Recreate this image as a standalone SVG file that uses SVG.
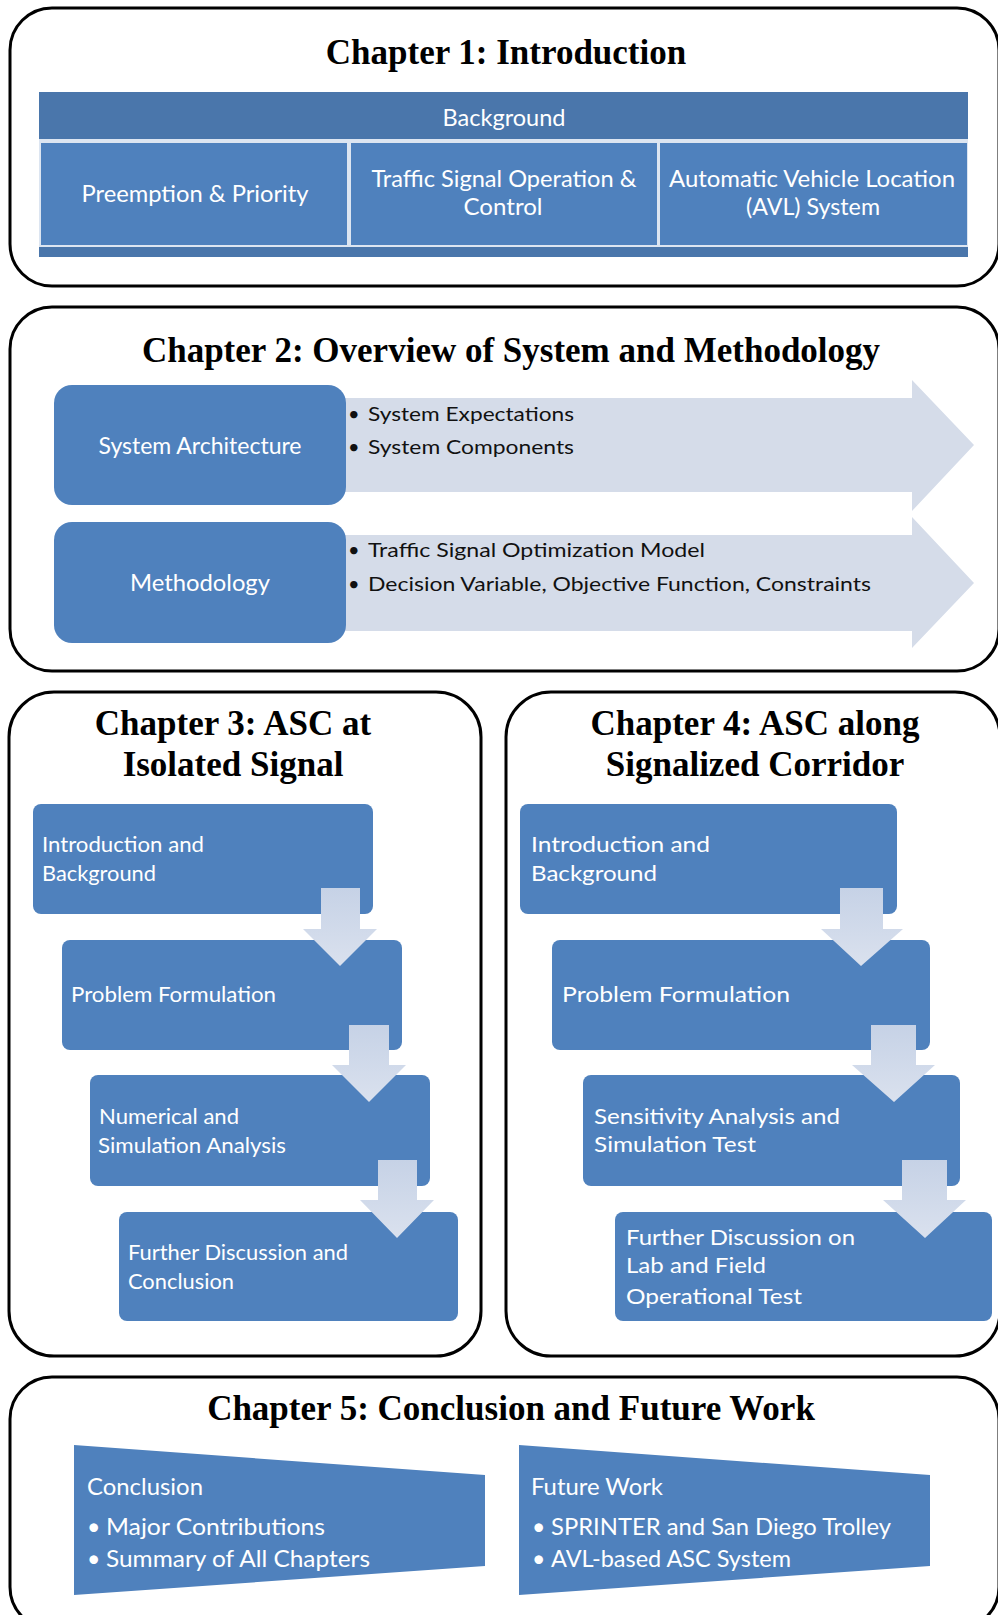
<svg xmlns="http://www.w3.org/2000/svg" width="998" height="1615" viewBox="0 0 998 1615">
<defs>
<linearGradient id="ag" x1="0" y1="0" x2="0" y2="1">
<stop offset="0" stop-color="#C6D2E6"/>
<stop offset="1" stop-color="#DAE1EE"/>
</linearGradient>
<style>
.frame{fill:#fff;stroke:#000;stroke-width:3}
.title{font-family:"Liberation Serif","Times New Roman",serif;font-weight:bold;font-size:35px;fill:#000;text-anchor:middle}
.blue{fill:#4F81BD}
.dark{fill:#4A76AB}
.wt{font-family:Lato,"Liberation Sans",sans-serif;fill:#fff;font-size:23px}
.bt{font-family:Lato,"Liberation Sans",sans-serif;fill:#111;font-size:20px}
.st{font-family:Lato,"Liberation Sans",sans-serif;fill:#fff;font-size:22px}
.mid{text-anchor:middle}
.big{fill:#D5DCE9}
.darr{fill:url(#ag)}
</style>
</defs>
<rect width="998" height="1615" fill="#fff"/>

<g id="chapter1">
<rect class="frame" x="10" y="8" width="989" height="278" rx="42"/>
<text class="title" x="506" y="64">Chapter 1: Introduction</text>
<rect x="39" y="139" width="929" height="108" fill="#DCE5F1"/>
<rect class="dark" x="39" y="92" width="929" height="47"/>
<text class="wt mid" x="504" y="126" textLength="123" lengthAdjust="spacingAndGlyphs">Background</text>
<rect class="blue" x="41" y="143" width="306" height="102"/>
<rect class="blue" x="351" y="143" width="306" height="102"/>
<rect class="blue" x="660" y="143" width="307" height="102"/>
<rect class="dark" x="39" y="247" width="929" height="10"/>
<text class="wt mid" x="195" y="202" textLength="227" lengthAdjust="spacingAndGlyphs">Preemption &amp; Priority</text>
<text class="wt mid" x="504" y="187" textLength="265" lengthAdjust="spacingAndGlyphs">Traffic Signal Operation &amp;</text>
<text class="wt mid" x="503" y="215" textLength="79" lengthAdjust="spacingAndGlyphs">Control</text>
<text class="wt mid" x="812" y="187" textLength="286" lengthAdjust="spacingAndGlyphs">Automatic Vehicle Location</text>
<text class="wt mid" x="813" y="215" textLength="134" lengthAdjust="spacingAndGlyphs">(AVL) System</text>
</g>

<g id="chapter2">
<rect class="frame" x="10" y="307" width="989" height="364" rx="42"/>
<text class="title" x="511" y="362">Chapter 2: Overview of System and Methodology</text>
<polygon class="big" points="330,398 912,398 912,380 974,445 912,511 912,492 330,492"/>
<polygon class="big" points="330,535 912,535 912,517 974,583 912,648 912,631 330,631"/>
<g id="sysarch">
<rect class="blue" x="54" y="385" width="292" height="120" rx="18"/>
<text class="wt mid" x="200" y="454" textLength="203" lengthAdjust="spacingAndGlyphs">System Architecture</text>
</g>
<g id="method">
<rect class="blue" x="54" y="522" width="292" height="121" rx="18"/>
<text class="wt mid" x="200" y="591" textLength="140" lengthAdjust="spacingAndGlyphs">Methodology</text>
</g>
<text class="bt" x="348" y="421">•</text>
<text class="bt" x="368" y="421" textLength="206" lengthAdjust="spacingAndGlyphs">System Expectations</text>
<text class="bt" x="348" y="454">•</text>
<text class="bt" x="368" y="454" textLength="206" lengthAdjust="spacingAndGlyphs">System Components</text>
<text class="bt" x="348" y="557">•</text>
<text class="bt" x="368" y="557" textLength="337" lengthAdjust="spacingAndGlyphs">Traffic Signal Optimization Model</text>
<text class="bt" x="348" y="591">•</text>
<text class="bt" x="368" y="591" textLength="503" lengthAdjust="spacingAndGlyphs">Decision Variable, Objective Function, Constraints</text>
</g>

<g id="chapter3">
<rect class="frame" x="9" y="692" width="472" height="664" rx="45"/>
<text class="title" x="233" y="735">Chapter 3: ASC at</text>
<text class="title" x="233" y="776">Isolated Signal</text>
<g id="c3b1"><rect class="blue" x="33" y="804" width="340" height="110" rx="8"/>
<text class="st" x="42" y="852" textLength="162" lengthAdjust="spacingAndGlyphs">Introduction and</text>
<text class="st" x="42" y="881" textLength="114" lengthAdjust="spacingAndGlyphs">Background</text></g>
<g id="c3b2"><rect class="blue" x="62" y="940" width="340" height="110" rx="8"/>
<text class="st" x="71" y="1002" textLength="205" lengthAdjust="spacingAndGlyphs">Problem Formulation</text></g>
<g id="c3b3"><rect class="blue" x="90" y="1075" width="340" height="111" rx="8"/>
<text class="st" x="99" y="1124" textLength="140" lengthAdjust="spacingAndGlyphs">Numerical and</text>
<text class="st" x="98" y="1153" textLength="188" lengthAdjust="spacingAndGlyphs">Simulation Analysis</text></g>
<g id="c3b4"><rect class="blue" x="119" y="1212" width="339" height="109" rx="8"/>
<text class="st" x="128" y="1260" textLength="220" lengthAdjust="spacingAndGlyphs">Further Discussion and</text>
<text class="st" x="128" y="1289" textLength="106" lengthAdjust="spacingAndGlyphs">Conclusion</text></g>
</g>

<g id="chapter4">
<rect class="frame" x="506" y="692" width="494" height="664" rx="45"/>
<text class="title" x="755" y="735">Chapter 4: ASC along</text>
<text class="title" x="755" y="776">Signalized Corridor</text>
<g id="c4b1"><rect class="blue" x="520" y="804" width="377" height="110" rx="8"/>
<text class="st" x="531" y="852" textLength="179" lengthAdjust="spacingAndGlyphs">Introduction and</text>
<text class="st" x="531" y="881" textLength="126" lengthAdjust="spacingAndGlyphs">Background</text></g>
<g id="c4b2"><rect class="blue" x="552" y="940" width="378" height="110" rx="8"/>
<text class="st" x="562" y="1002" textLength="228" lengthAdjust="spacingAndGlyphs">Problem Formulation</text></g>
<g id="c4b3"><rect class="blue" x="583" y="1075" width="377" height="111" rx="8"/>
<text class="st" x="594" y="1124" textLength="246" lengthAdjust="spacingAndGlyphs">Sensitivity Analysis and</text>
<text class="st" x="594" y="1152" textLength="162" lengthAdjust="spacingAndGlyphs">Simulation Test</text></g>
<g id="c4b4"><rect class="blue" x="615" y="1212" width="377" height="109" rx="8"/>
<text class="st" x="626" y="1245" textLength="229" lengthAdjust="spacingAndGlyphs">Further Discussion on</text>
<text class="st" x="626" y="1273" textLength="140" lengthAdjust="spacingAndGlyphs">Lab and Field</text>
<text class="st" x="626" y="1304" textLength="176" lengthAdjust="spacingAndGlyphs">Operational Test</text></g>
</g>

<g id="connectors">
<polygon class="darr" points="321,888 360,888 360,929 377,929 340,966 303,929 321,929"/>
<polygon class="darr" points="349,1025 389,1025 389,1065 406,1065 369,1102 332,1065 349,1065"/>
<polygon class="darr" points="378,1160 417,1160 417,1200 434,1200 397,1238 360,1200 378,1200"/>
<polygon class="darr" points="840,888 883,888 883,929 903,929 861,966 821,929 840,929"/>
<polygon class="darr" points="871,1025 916,1025 916,1065 935,1065 894,1102 852,1065 871,1065"/>
<polygon class="darr" points="902,1160 947,1160 947,1200 966,1200 925,1238 883,1200 902,1200"/>
</g>

<g id="chapter5">
<rect class="frame" x="10" y="1377" width="989" height="252" rx="42"/>
<text class="title" x="511" y="1420">Chapter 5: Conclusion and Future Work</text>
<g id="conclusion">
<polygon class="blue" points="74,1445 485,1475 485,1566 74,1595"/>
<text class="wt" x="87" y="1495" font-size="24" textLength="116" lengthAdjust="spacingAndGlyphs">Conclusion</text>
<text class="wt" x="87" y="1535" font-size="24">•</text>
<text class="wt" x="106" y="1535" font-size="24" textLength="219" lengthAdjust="spacingAndGlyphs">Major Contributions</text>
<text class="wt" x="87" y="1567" font-size="24">•</text>
<text class="wt" x="106" y="1567" font-size="24" textLength="264" lengthAdjust="spacingAndGlyphs">Summary of All Chapters</text>
</g>
<g id="futurework">
<polygon class="blue" points="519,1445 930,1475 930,1566 519,1595"/>
<text class="wt" x="531" y="1495" font-size="24" textLength="132" lengthAdjust="spacingAndGlyphs">Future Work</text>
<text class="wt" x="532" y="1535" font-size="24">•</text>
<text class="wt" x="551" y="1535" font-size="24" textLength="340" lengthAdjust="spacingAndGlyphs">SPRINTER and San Diego Trolley</text>
<text class="wt" x="532" y="1567" font-size="24">•</text>
<text class="wt" x="551" y="1567" font-size="24" textLength="240" lengthAdjust="spacingAndGlyphs">AVL-based ASC System</text>
</g>
</g>
</svg>
